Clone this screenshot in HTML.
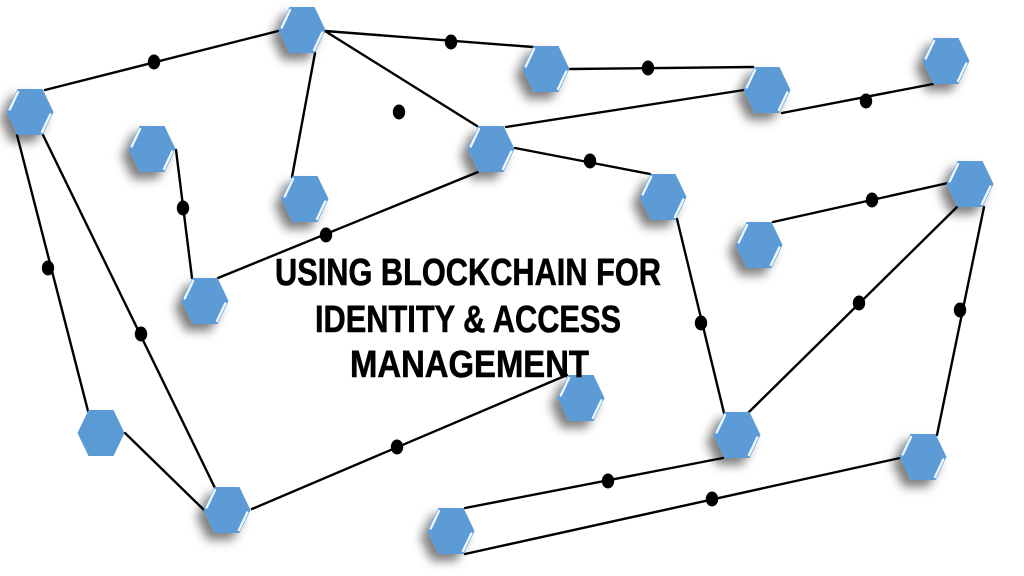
<!DOCTYPE html>
<html>
<head>
<meta charset="utf-8">
<style>
  html,body{margin:0;padding:0;background:#fff;}
  svg{display:block;}
</style>
</head>
<body>
<svg width="1024" height="576" viewBox="0 0 1024 576" xmlns="http://www.w3.org/2000/svg">
  <defs>
    <filter id="sh" x="-60%" y="-60%" width="220%" height="220%">
      <feDropShadow dx="-7" dy="7" stdDeviation="5" flood-color="#000" flood-opacity="0.5"/>
    </filter>
    <g id="hx">
      <polygon points="-23.5,0 -12.5,-23 12.5,-23 23.5,0 12.5,23 -12.5,23" fill="#5b9bd5"/>
      <line x1="-20.3" y1="-2.5" x2="-12" y2="-20" stroke="#eef6ff" stroke-width="2.4" stroke-linecap="round"/>
      <line x1="20.3" y1="2.5" x2="12" y2="20" stroke="#eef6ff" stroke-width="2.4" stroke-linecap="round"/>
    </g>
  </defs>
  <rect width="1024" height="576" fill="#fff"/>

  <!-- connectors -->
  <g stroke="#000" stroke-width="2.4" fill="none" stroke-linecap="round">
    <line x1="45" y1="90" x2="278" y2="31"/>
    <line x1="325" y1="31" x2="533" y2="47"/>
    <line x1="325" y1="31" x2="477" y2="126"/>
    <line x1="315" y1="53" x2="292" y2="177"/>
    <line x1="570" y1="69" x2="753" y2="67"/>
    <line x1="506" y1="127" x2="744" y2="90"/>
    <line x1="782" y1="113" x2="933" y2="84"/>
    <line x1="515" y1="148" x2="650" y2="174"/>
    <line x1="478" y1="172" x2="218" y2="278"/>
    <line x1="176" y1="150" x2="192" y2="278"/>
    <line x1="17" y1="135" x2="88" y2="411"/>
    <line x1="43" y1="135" x2="215" y2="488"/>
    <line x1="125" y1="433" x2="204" y2="510"/>
    <line x1="252" y1="509" x2="567" y2="375"/>
    <line x1="677" y1="219" x2="724" y2="413"/>
    <line x1="773" y1="222" x2="948" y2="183"/>
    <line x1="957" y1="207" x2="748" y2="413"/>
    <line x1="984" y1="207" x2="937" y2="435"/>
    <line x1="723" y1="458" x2="465" y2="508"/>
    <line x1="900" y1="458" x2="465" y2="554"/>
  </g>

  <!-- dots -->
  <g fill="#000">
    <ellipse cx="154" cy="62" rx="6.2" ry="7.5"/>
    <ellipse cx="451" cy="42" rx="6.2" ry="7.5"/>
    <ellipse cx="648" cy="68" rx="6.2" ry="7.5"/>
    <ellipse cx="866" cy="101" rx="6.2" ry="7.5"/>
    <ellipse cx="590" cy="161" rx="6.2" ry="7.5"/>
    <ellipse cx="326" cy="235" rx="6.2" ry="7.5"/>
    <ellipse cx="183" cy="208" rx="6.2" ry="7.5"/>
    <ellipse cx="48" cy="268" rx="6.2" ry="7.5"/>
    <ellipse cx="141" cy="334" rx="6.2" ry="7.5"/>
    <ellipse cx="397" cy="447" rx="6.2" ry="7.5"/>
    <ellipse cx="701" cy="323" rx="6.2" ry="7.5"/>
    <ellipse cx="872" cy="200" rx="6.2" ry="7.5"/>
    <ellipse cx="859" cy="303" rx="6.2" ry="7.5"/>
    <ellipse cx="960" cy="310" rx="6.2" ry="7.5"/>
    <ellipse cx="608" cy="481" rx="6.2" ry="7.5"/>
    <ellipse cx="712" cy="499" rx="6.2" ry="7.5"/>
    <ellipse cx="399" cy="112" rx="6.2" ry="7.5"/>
  </g>

  <!-- hexagons -->
  <g filter="url(#sh)"><use href="#hx" x="302" y="30"/></g>
  <g filter="url(#sh)"><use href="#hx" x="30" y="112"/></g>
  <g filter="url(#sh)"><use href="#hx" x="152" y="149"/></g>
  <g filter="url(#sh)"><use href="#hx" x="305" y="199"/></g>
  <g filter="url(#sh)"><use href="#hx" x="491" y="149"/></g>
  <g filter="url(#sh)"><use href="#hx" x="546" y="69"/></g>
  <g filter="url(#sh)"><use href="#hx" x="767" y="90"/></g>
  <g filter="url(#sh)"><use href="#hx" x="946" y="61"/></g>
  <g filter="url(#sh)"><use href="#hx" x="663" y="197"/></g>
  <g filter="url(#sh)"><use href="#hx" x="759" y="245"/></g>
  <g filter="url(#sh)"><use href="#hx" x="970" y="184"/></g>
  <g filter="url(#sh)"><use href="#hx" x="205" y="301"/></g>
  <g filter="url(#sh)"><use href="#hx" x="581" y="398"/></g>
  <polygon transform="translate(101,433)" points="-23.5,0 -12.5,-23 12.5,-23 23.5,0 12.5,23 -12.5,23" fill="#5b9bd5"/>
  <g filter="url(#sh)"><use href="#hx" x="737" y="435"/></g>
  <g filter="url(#sh)"><use href="#hx" x="923" y="457"/></g>
  <g filter="url(#sh)"><use href="#hx" x="227" y="510"/></g>
  <g filter="url(#sh)"><use href="#hx" x="451" y="531"/></g>

  <!-- title -->
  <g font-family="'Liberation Sans', Arial, sans-serif" font-weight="bold" font-size="38" fill="#000" stroke="#000" stroke-width="0.6">
    <text x="275" y="285" textLength="386" lengthAdjust="spacingAndGlyphs">USING BLOCKCHAIN FOR</text>
    <text x="315" y="332" textLength="306" lengthAdjust="spacingAndGlyphs">IDENTITY &amp; ACCESS</text>
    <text x="350" y="377" textLength="239" lengthAdjust="spacingAndGlyphs">MANAGEMENT</text>
  </g>
</svg>
</body>
</html>
